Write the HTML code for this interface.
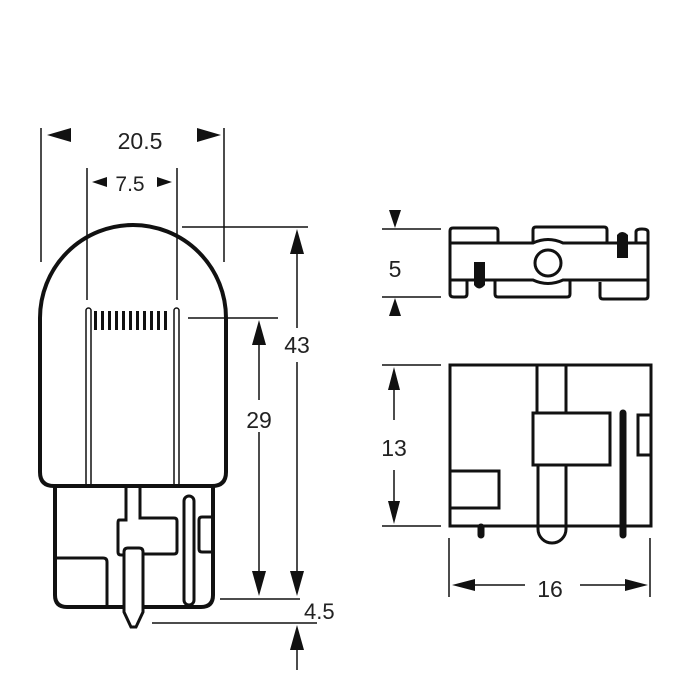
<!DOCTYPE html>
<html><head><style>
html,body{margin:0;padding:0;background:#fff;}
svg{display:block;}
text{font-family:"Liberation Sans",sans-serif;fill:#222;}
</style></head><body>
<svg width="700" height="700" viewBox="0 0 700 700" xmlns="http://www.w3.org/2000/svg">
<g fill="none" stroke="#111" stroke-linecap="butt">
<path d="M40,318 A93,93 0 0 1 226,318 L226,472 Q226,486 212,486 L54,486 Q40,486 40,472 Z" stroke-width="4"/>
<rect x="86" y="308" width="5" height="178" rx="2.5" stroke-width="1.5"/>
<rect x="174" y="308" width="5" height="178" rx="2.5" stroke-width="1.5"/>
<path d="M55,487 L55,595 Q55,607 67,607 L201,607 Q213,607 213,595 L213,487" stroke-width="4"/>
<path d="M126,487 L126,520 L119,520 Q118,520 118,523 L118,552 Q118,555 121,555 L124,555" stroke-width="3"/>
<path d="M140,487 L140,518 L174,518 Q177,518 177,521 L177,551 Q177,554 174,554 L143,554" stroke-width="3"/>
<path d="M124,552 Q124,548 128,548 L139,548 Q143,548 143,552 L143,612 L136,627 L131,627 L124,612 Z" stroke-width="3" fill="#fff"/>
<path d="M55,558 L103,558 Q107,558 107,562 L107,606" stroke-width="3"/>
<rect x="184" y="496" width="10" height="109" rx="5" stroke-width="3"/>
<path d="M213,517 L202,517 Q199,517 199,520 L199,549 Q199,552 202,552 L213,552" stroke-width="3"/>
</g>
<g fill="#111">
<rect x="94" y="311" width="3" height="19"/><rect x="101" y="311" width="3" height="19"/><rect x="108" y="311" width="3" height="19"/><rect x="115" y="311" width="3" height="19"/><rect x="122" y="311" width="3" height="19"/><rect x="129" y="311" width="3" height="19"/><rect x="136" y="311" width="3" height="19"/><rect x="143" y="311" width="3" height="19"/><rect x="150" y="311" width="3" height="19"/><rect x="157" y="311" width="3" height="19"/><rect x="164" y="311" width="3" height="19"/>
</g>
<g stroke="#111" stroke-width="1.5">
<line x1="41" y1="128" x2="41" y2="262"/>
<line x1="224" y1="128" x2="224" y2="262"/>
<line x1="87" y1="168" x2="87" y2="300"/>
<line x1="177" y1="168" x2="177" y2="300"/>
<line x1="182" y1="227" x2="308" y2="227"/>
<line x1="188" y1="318" x2="278" y2="318"/>
<line x1="297" y1="250" x2="297" y2="328"/>
<line x1="297" y1="362" x2="297" y2="575"/>
<line x1="259" y1="340" x2="259" y2="400"/>
<line x1="259" y1="432" x2="259" y2="575"/>
<line x1="220" y1="599" x2="300" y2="599"/>
<line x1="152" y1="623" x2="317" y2="623"/>
<line x1="297" y1="645" x2="297" y2="670"/>
</g>
<g fill="#111">
<polygon points="47,135 71,128 71,142"/>
<polygon points="221,135 197,128 197,142"/>
<polygon points="92,182 107,177 107,187"/>
<polygon points="172,182 157,177 157,187"/>
<polygon points="297,229 290,254 304,254"/>
<polygon points="297,596 290,571 304,571"/>
<polygon points="259,320 252,345 266,345"/>
<polygon points="259,596 252,571 266,571"/>
<polygon points="297,625 290,650 304,650"/>
</g>
<text x="140" y="149" font-size="23" text-anchor="middle">20.5</text>
<text x="130" y="191" font-size="21" text-anchor="middle">7.5</text>
<text x="297" y="353" font-size="23" text-anchor="middle">43</text>
<text x="259" y="428" font-size="23" text-anchor="middle">29</text>
<text x="304" y="619" font-size="22">4.5</text>

<g fill="none" stroke="#111" stroke-width="3">
<path d="M450,243 L450,231 Q450,228 453,228 L495,228 Q498,228 498,231 L498,243"/>
<path d="M533,243 L533,230 Q533,227 536,227 L604,227 Q607,227 607,230 L607,243"/>
<path d="M636,243 L636,232 Q636,229 642,229 Q648,229 648,232 L648,243"/>
<path d="M450,243 L533,243 Q548,236 563,243 L648,243 L648,280 L563,280 Q548,287 533,280 L450,280 Z"/>
<circle cx="548" cy="263" r="13"/>
<path d="M450,280 L450,294 Q450,297 454,297 L464,297 Q467,297 467,294 L467,280"/>
<path d="M495,280 L495,294 Q495,297 498,297 L567,297 Q570,297 570,294 L570,280"/>
<path d="M600,282 L600,296 Q600,299 603,299 L645,299 Q648,299 648,296 L648,280"/>
</g>
<g fill="#111">
<path d="M617,258 L617,235 Q622,229 628,235 L628,258 Z"/>
<path d="M474,262 L485,262 L485,285 Q479,292 474,285 Z"/>
</g>
<g stroke="#111" stroke-width="1.5">
<line x1="382" y1="229" x2="441" y2="229"/>
<line x1="382" y1="297" x2="441" y2="297"/>
<line x1="382" y1="365" x2="441" y2="365"/>
<line x1="382" y1="526" x2="441" y2="526"/>
<line x1="394" y1="385" x2="394" y2="420"/>
<line x1="394" y1="470" x2="394" y2="510"/>
<line x1="449" y1="538" x2="449" y2="597"/>
<line x1="650" y1="538" x2="650" y2="597"/>
<line x1="465" y1="585" x2="525" y2="585"/>
<line x1="580" y1="585" x2="635" y2="585"/>
</g>
<g fill="#111">
<polygon points="395,228 389,210 401,210"/>
<polygon points="395,298 389,316 401,316"/>
<polygon points="394,367 388,390 400,390"/>
<polygon points="394,524 388,501 400,501"/>
<polygon points="452,585 475,579 475,591"/>
<polygon points="648,585 625,579 625,591"/>
</g>
<text x="395" y="277" font-size="23" text-anchor="middle">5</text>
<text x="394" y="456" font-size="23" text-anchor="middle">13</text>
<text x="550" y="597" font-size="23" text-anchor="middle">16</text>

<g fill="none" stroke="#111" stroke-width="3">
<rect x="450" y="365" width="201" height="161"/>
<line x1="537" y1="365" x2="537" y2="413"/>
<line x1="566" y1="365" x2="566" y2="413"/>
<rect x="533" y="413" width="77" height="52" fill="#fff"/>
<path d="M538,465 L538,529 A14,14 0 0 0 566,529 L566,465"/>
<rect x="450" y="471" width="49" height="37"/>
<path d="M651,415 L638,415 L638,455 L651,455"/>
</g>
<g stroke="#111" stroke-linecap="round">
<line x1="623" y1="413" x2="623" y2="535" stroke-width="7"/>
<line x1="481" y1="527" x2="481" y2="535" stroke-width="7"/>
</g>
</svg>
</body></html>
